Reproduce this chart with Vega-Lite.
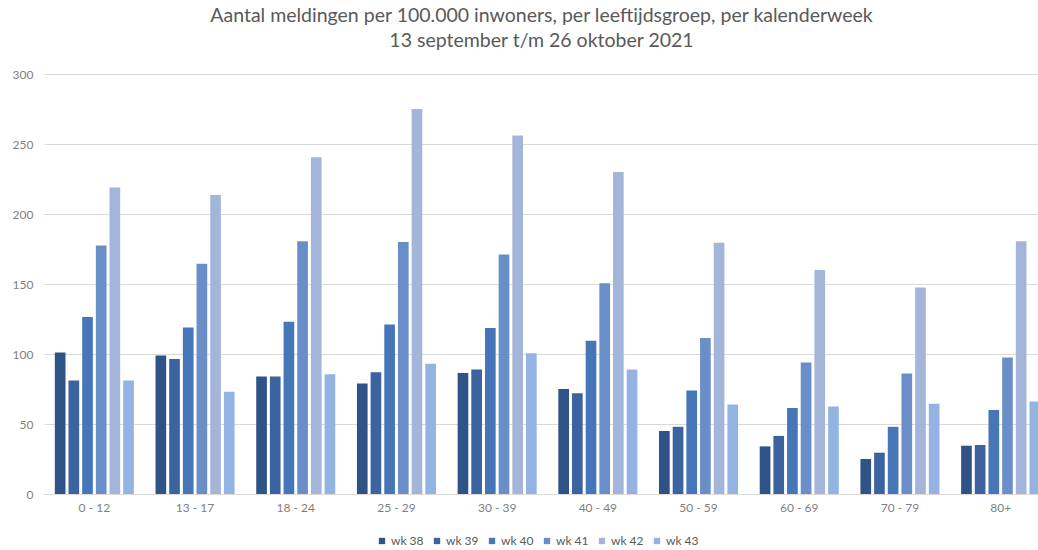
{
  "$schema": "https://vega.github.io/schema/vega-lite/v6.json",
  "width": 1007,
  "height": 420,
  "autosize": {"type": "none"},
  "padding": {"left": 44, "top": 74, "right": 0, "bottom": 56},
  "background": "white",
  "title": {
    "text": ["Aantal meldingen per 100.000 inwoners, per leeftijdsgroep, per kalenderweek", "13 september t/m 26 oktober 2021"],
    "font": "Lato",
    "fontSize": 19.5,
    "fontWeight": "normal",
    "color": "#595959",
    "lineHeight": 25,
    "anchor": "middle",
    "dx": -6,
    "offset": 17
  },
  "data": {
    "values": [
      {"groep": "0 - 12", "week": "wk 38", "waarde": 101},
      {"groep": "0 - 12", "week": "wk 39", "waarde": 81},
      {"groep": "0 - 12", "week": "wk 40", "waarde": 126.5},
      {"groep": "0 - 12", "week": "wk 41", "waarde": 177.5},
      {"groep": "0 - 12", "week": "wk 42", "waarde": 219},
      {"groep": "0 - 12", "week": "wk 43", "waarde": 81},
      {"groep": "13 - 17", "week": "wk 38", "waarde": 99},
      {"groep": "13 - 17", "week": "wk 39", "waarde": 96.5},
      {"groep": "13 - 17", "week": "wk 40", "waarde": 119},
      {"groep": "13 - 17", "week": "wk 41", "waarde": 164.5},
      {"groep": "13 - 17", "week": "wk 42", "waarde": 213.5},
      {"groep": "13 - 17", "week": "wk 43", "waarde": 73},
      {"groep": "18 - 24", "week": "wk 38", "waarde": 84},
      {"groep": "18 - 24", "week": "wk 39", "waarde": 84},
      {"groep": "18 - 24", "week": "wk 40", "waarde": 123},
      {"groep": "18 - 24", "week": "wk 41", "waarde": 180.5},
      {"groep": "18 - 24", "week": "wk 42", "waarde": 240.5},
      {"groep": "18 - 24", "week": "wk 43", "waarde": 85.5},
      {"groep": "25 - 29", "week": "wk 38", "waarde": 79},
      {"groep": "25 - 29", "week": "wk 39", "waarde": 87},
      {"groep": "25 - 29", "week": "wk 40", "waarde": 121},
      {"groep": "25 - 29", "week": "wk 41", "waarde": 180},
      {"groep": "25 - 29", "week": "wk 42", "waarde": 275},
      {"groep": "25 - 29", "week": "wk 43", "waarde": 93},
      {"groep": "30 - 39", "week": "wk 38", "waarde": 86.5},
      {"groep": "30 - 39", "week": "wk 39", "waarde": 89},
      {"groep": "30 - 39", "week": "wk 40", "waarde": 118.5},
      {"groep": "30 - 39", "week": "wk 41", "waarde": 171},
      {"groep": "30 - 39", "week": "wk 42", "waarde": 256},
      {"groep": "30 - 39", "week": "wk 43", "waarde": 100.5},
      {"groep": "40 - 49", "week": "wk 38", "waarde": 75},
      {"groep": "40 - 49", "week": "wk 39", "waarde": 72},
      {"groep": "40 - 49", "week": "wk 40", "waarde": 109.5},
      {"groep": "40 - 49", "week": "wk 41", "waarde": 150.5},
      {"groep": "40 - 49", "week": "wk 42", "waarde": 230},
      {"groep": "40 - 49", "week": "wk 43", "waarde": 89},
      {"groep": "50 - 59", "week": "wk 38", "waarde": 45},
      {"groep": "50 - 59", "week": "wk 39", "waarde": 48},
      {"groep": "50 - 59", "week": "wk 40", "waarde": 74},
      {"groep": "50 - 59", "week": "wk 41", "waarde": 111.5},
      {"groep": "50 - 59", "week": "wk 42", "waarde": 179.5},
      {"groep": "50 - 59", "week": "wk 43", "waarde": 64},
      {"groep": "60 - 69", "week": "wk 38", "waarde": 34},
      {"groep": "60 - 69", "week": "wk 39", "waarde": 41.5},
      {"groep": "60 - 69", "week": "wk 40", "waarde": 61.5},
      {"groep": "60 - 69", "week": "wk 41", "waarde": 94},
      {"groep": "60 - 69", "week": "wk 42", "waarde": 160},
      {"groep": "60 - 69", "week": "wk 43", "waarde": 62.5},
      {"groep": "70 - 79", "week": "wk 38", "waarde": 25},
      {"groep": "70 - 79", "week": "wk 39", "waarde": 29.5},
      {"groep": "70 - 79", "week": "wk 40", "waarde": 48},
      {"groep": "70 - 79", "week": "wk 41", "waarde": 86},
      {"groep": "70 - 79", "week": "wk 42", "waarde": 147.5},
      {"groep": "70 - 79", "week": "wk 43", "waarde": 64.5},
      {"groep": "80+", "week": "wk 38", "waarde": 34.5},
      {"groep": "80+", "week": "wk 39", "waarde": 35},
      {"groep": "80+", "week": "wk 40", "waarde": 60},
      {"groep": "80+", "week": "wk 41", "waarde": 97.5},
      {"groep": "80+", "week": "wk 42", "waarde": 180.5},
      {"groep": "80+", "week": "wk 43", "waarde": 66}
    ]
  },
  "mark": {"type": "bar", "clip": false},
  "encoding": {
    "x": {
      "field": "groep",
      "type": "nominal",
      "sort": null,
      "scale": {"paddingInner": 0.215, "paddingOuter": 0.1075},
      "axis": {
        "title": null,
        "labelAngle": 0,
        "labelFont": "Lato",
        "labelFontSize": 12,
        "labelColor": "#7f7f7f",
        "labelPadding": 8,
        "ticks": false,
        "domainColor": "#d9d9d9",
        "domainWidth": 1
      }
    },
    "xOffset": {
      "field": "week",
      "type": "nominal",
      "scale": {"paddingInner": 0.22, "paddingOuter": 0}
    },
    "y": {
      "field": "waarde",
      "type": "quantitative",
      "scale": {"domain": [0, 300]},
      "axis": {
        "title": null,
        "values": [0, 50, 100, 150, 200, 250, 300],
        "labelFont": "Lato",
        "labelFontSize": 12,
        "labelColor": "#7f7f7f",
        "labelPadding": 11,
        "ticks": false,
        "domain": false,
        "gridColor": "#d9d9d9",
        "gridWidth": 1
      }
    },
    "color": {
      "field": "week",
      "type": "nominal",
      "scale": {
        "domain": ["wk 38", "wk 39", "wk 40", "wk 41", "wk 42", "wk 43"],
        "range": ["#2f5287", "#3a63a0", "#4676b7", "#6a8fc8", "#a3b6da", "#93b4e2"]
      },
      "legend": {
        "title": null,
        "orient": "none",
        "direction": "horizontal",
        "legendX": 332,
        "legendY": 461,
        "symbolType": "square",
        "symbolSize": 40,
        "symbolStrokeWidth": 0,
        "labelFont": "Lato",
        "labelFontSize": 12,
        "labelColor": "#595959",
        "columnPadding": 7,
        "labelOffset": 3
      }
    }
  },
  "config": {"view": {"stroke": null}}
}
